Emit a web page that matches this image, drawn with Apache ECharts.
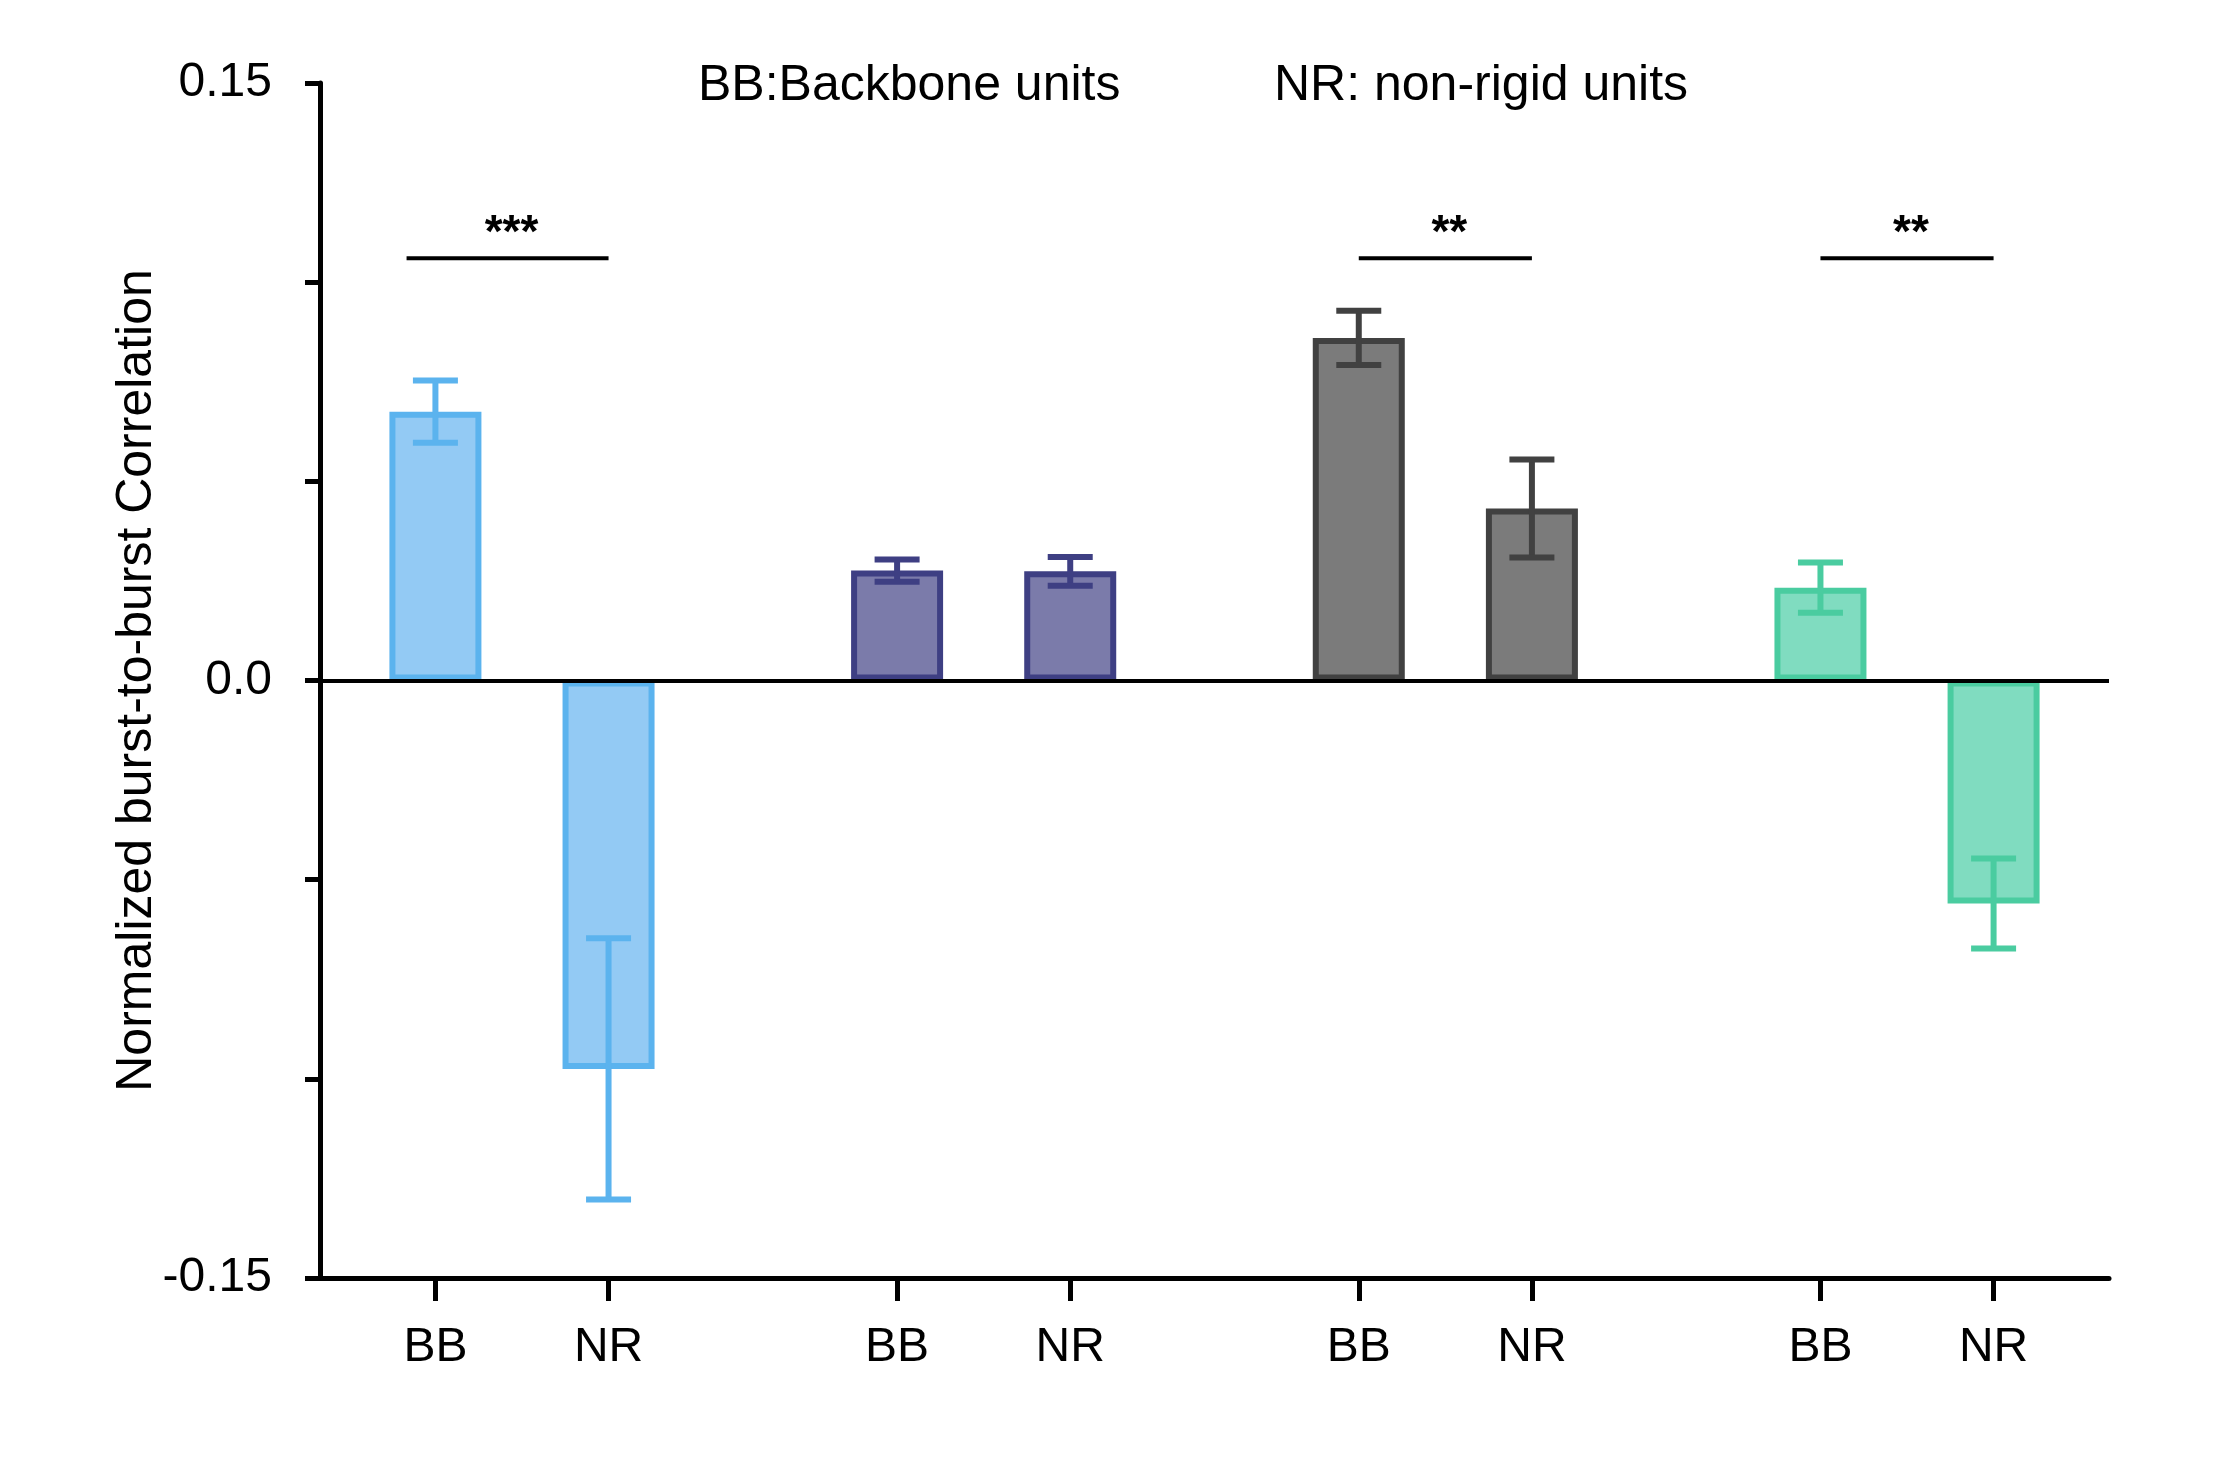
<!DOCTYPE html>
<html>
<head>
<meta charset="utf-8">
<script src="https://cdn.jsdelivr.net/npm/echarts@6/dist/echarts.min.js"></script>
<style>
html,body{margin:0;padding:0;background:#fff;}
#chart{width:2236px;height:1465px;}
</style>
</head>
<body>
<div id="chart"></div>
<script>
// ---- data ----
const barLabels = ['BB', 'NR', 'BB', 'NR', 'BB', 'NR', 'BB', 'NR'];
const barMeans  = [0.0675, -0.0975, 0.0276, 0.0274, 0.0860, 0.0432, 0.0233, -0.0560];
const barErrors = [0.0078, 0.0328, 0.0028, 0.0036, 0.0068, 0.0123, 0.0063, 0.0113];
const sigPairs  = [[0, 1], [4, 5], [6, 7]];
const sigLevels = [0.106, 0.106, 0.106];
const sigStars  = ['***', '**', '**'];
const yTickLabels = {'0.15': '0.15', '0': '0.0', '-0.15': '-0.15'};
const legendTexts = ['BB:Backbone units', 'NR: non-rigid units'];

// ---- layout / style (not data) ----
const slotOf = [4, 10, 20, 26, 36, 42, 52, 58];   // positions of bars on a fine category grid
const nSlots = 63;
const fills   = ['#93CAF4', '#93CAF4', '#7B7BAA', '#7B7BAA', '#7B7B7B', '#7B7B7B', '#80DCC0', '#80DCC0'];
const borders = ['#5BB3EE', '#5BB3EE', '#3E3F83', '#3E3F83', '#414141', '#414141', '#4ACCA0', '#4ACCA0'];
const sigStartShift = [-1, 0, 0];
const FONT = '"Liberation Sans", Arial, Helvetica, sans-serif';

const cats = new Array(nSlots).fill('');
slotOf.forEach((s, i) => { cats[s] = barLabels[i]; });

const barData = new Array(nSlots).fill(null);
slotOf.forEach((s, i) => {
  barData[s] = { value: barMeans[i], itemStyle: { color: fills[i], borderColor: borders[i], borderWidth: 6 } };
});

const errData = barMeans.map((m, i) => [slotOf[i], m, barErrors[i], i]);
const sigData = sigPairs.map((p, i) => [slotOf[p[0]] + sigStartShift[i], slotOf[p[1]], sigLevels[i], i]);

const chart = echarts.init(document.getElementById('chart'), null, { renderer: 'canvas' });

const option = {
  animation: false,
  backgroundColor: '#ffffff',
  grid: { left: 320, right: 127, top: 83, bottom: 187, containLabel: false },
  graphic: [
    { type: 'text', left: 698, top: 61, style: { text: legendTexts[0], font: '50px ' + FONT, fill: '#000' } },
    { type: 'text', left: 1274, top: 61, style: { text: legendTexts[1], font: '50px ' + FONT, fill: '#000' } }
  ],
  xAxis: {
    type: 'category',
    data: cats,
    boundaryGap: false,
    position: 'bottom',
    axisLine: { onZero: false, lineStyle: { color: '#000', width: 5 } },
    axisTick: { show: true, interval: (i, v) => v !== '', length: 23, lineStyle: { color: '#000', width: 5 } },
    axisLabel: { interval: (i, v) => v !== '', color: '#000', fontSize: 48, fontFamily: FONT, margin: 46 },
    splitLine: { show: false }
  },
  yAxis: {
    type: 'value',
    min: -0.15, max: 0.15, interval: 0.05,
    name: 'Normalized burst-to-burst Correlation',
    nameLocation: 'middle',
    nameGap: 158,
    nameMoveOverlap: false,
    nameTextStyle: { color: '#000', fontSize: 50, fontFamily: FONT },
    axisLine: { show: true, lineStyle: { color: '#000', width: 5 } },
    axisTick: { show: true, length: 15, lineStyle: { color: '#000', width: 5 } },
    axisLabel: {
      color: '#000', fontSize: 48, fontFamily: FONT, margin: 48,
      formatter: v => {
        const k = String(Math.round(v * 100) / 100);
        return yTickLabels[k] !== undefined ? yTickLabels[k] : '';
      }
    },
    splitLine: { show: false }
  },
  series: [
    {
      type: 'bar',
      data: barData,
      barWidth: 92,
      z: 2,
      markLine: {
        silent: true,
        symbol: ['none', 'none'],
        label: { show: false },
        lineStyle: { color: '#000', width: 4, type: 'solid' },
        data: [{ yAxis: 0 }]
      }
    },
    {
      type: 'custom',
      z: 5,
      data: errData,
      renderItem: (params, api) => {
        const x = api.value(0), m = api.value(1), e = api.value(2), ci = api.value(3);
        const top = api.coord([x, m + e]);
        const bot = api.coord([x, m - e]);
        const half = 22.5;
        const st = { stroke: borders[ci], lineWidth: 6, lineCap: 'butt' };
        return {
          type: 'group',
          children: [
            { type: 'line', shape: { x1: top[0], y1: top[1], x2: bot[0], y2: bot[1] }, style: st },
            { type: 'line', shape: { x1: top[0] - half, y1: top[1], x2: top[0] + half, y2: top[1] }, style: st },
            { type: 'line', shape: { x1: bot[0] - half, y1: bot[1], x2: bot[0] + half, y2: bot[1] }, style: st }
          ]
        };
      }
    },
    {
      type: 'custom',
      z: 5,
      data: sigData,
      renderItem: (params, api) => {
        const a = api.coord([api.value(0), api.value(2)]);
        const b = api.coord([api.value(1), api.value(2)]);
        const idx = api.value(3);
        return {
          type: 'group',
          children: [
            { type: 'line', shape: { x1: a[0], y1: a[1], x2: b[0], y2: b[1] }, style: { stroke: '#000', lineWidth: 4 } },
            { type: 'text', style: { text: sigStars[idx], x: (a[0] + b[0]) / 2 + 4, y: a[1] - 1, align: 'center', verticalAlign: 'bottom', font: 'bold 46px ' + FONT, fill: '#000' } }
          ]
        };
      }
    }
  ]
};
chart.setOption(option);
</script>
</body>
</html>
